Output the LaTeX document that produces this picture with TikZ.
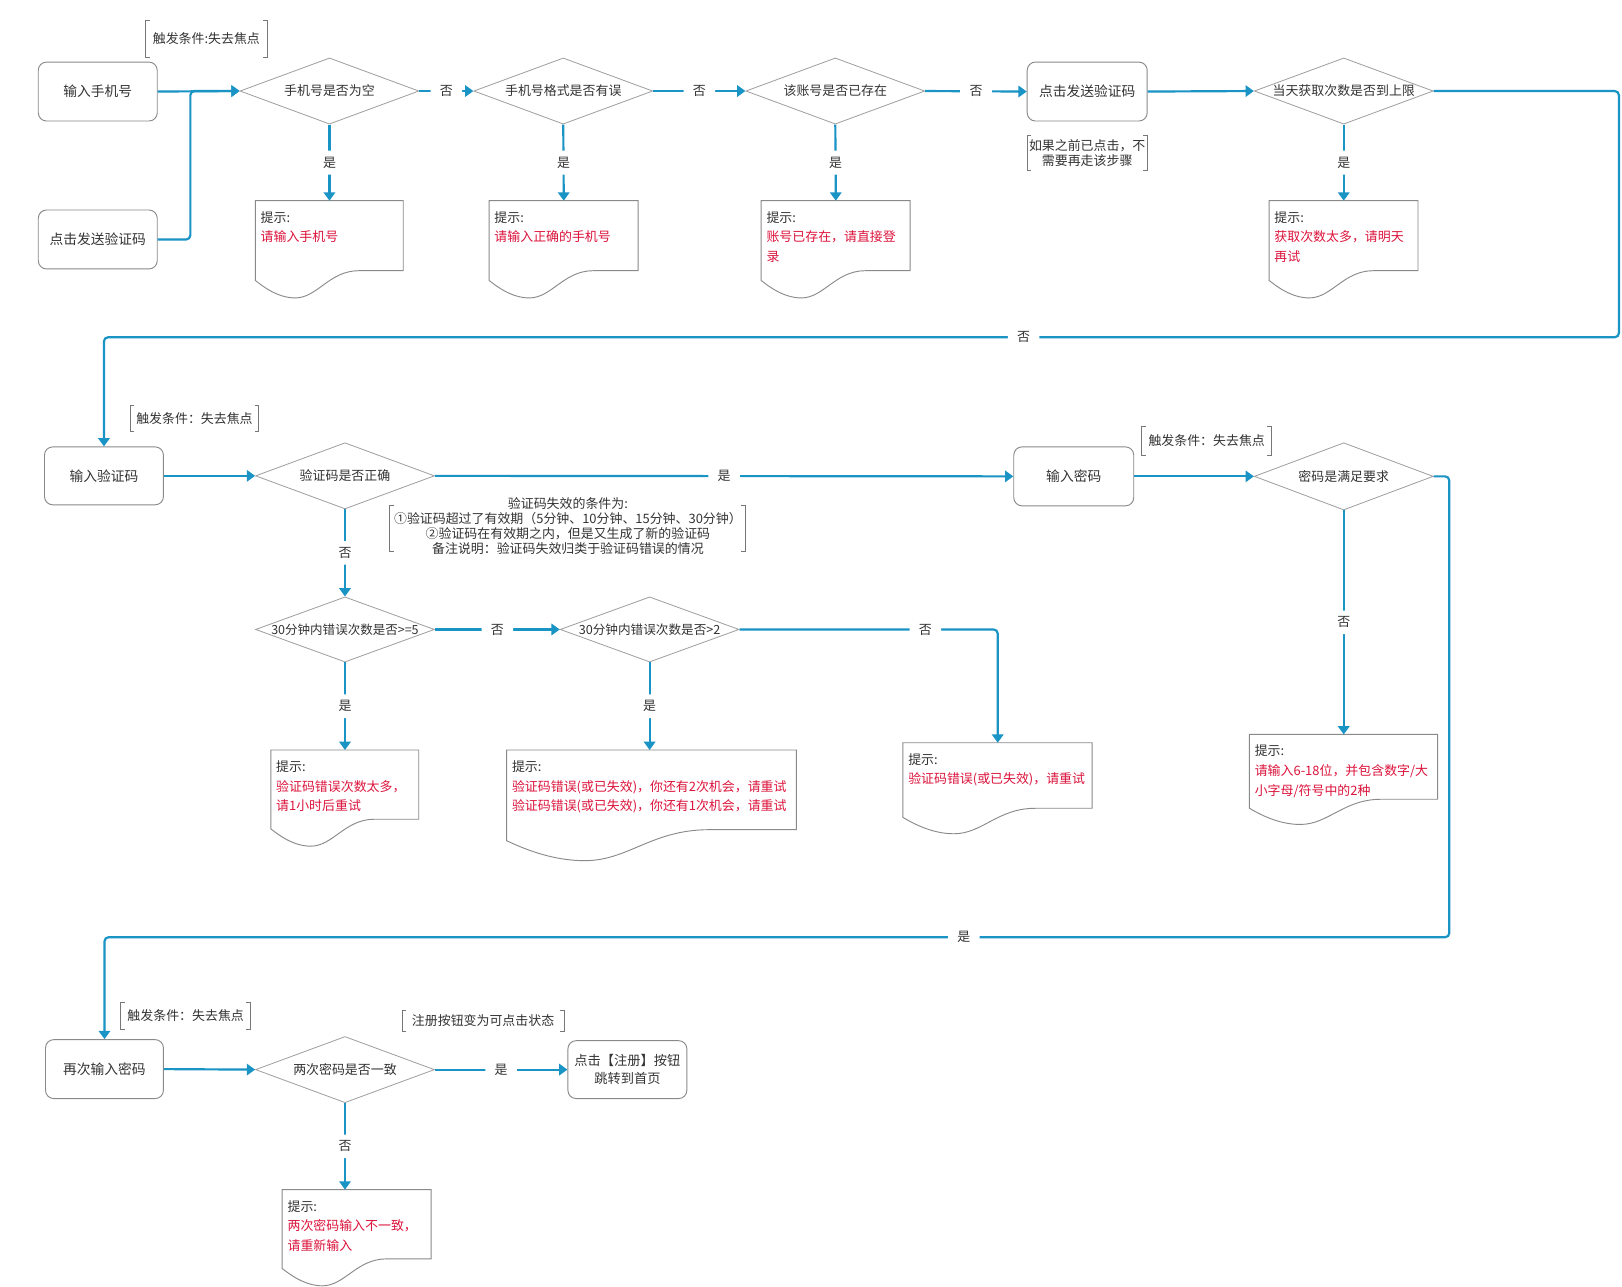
\documentclass[tikz,border=0pt]{standalone}
\usepackage{fontspec}
\setmainfont{Noto Sans CJK SC}
\usetikzlibrary{shapes.geometric,arrows.meta,calc}
\definecolor{lineblue}{HTML}{1A93C5}
\definecolor{boxgray}{HTML}{8A8A8A}
\definecolor{diagray}{HTML}{A0A0A0}
\definecolor{txt}{HTML}{333333}
\definecolor{warn}{HTML}{DC143C}
\definecolor{brk}{HTML}{777777}
\newcommand\fs{\fontsize{12.5pt}{15pt}\selectfont}
\newcommand\rd[1]{\textcolor{warn}{#1}}
\tikzset{
  every node/.style={font=\fs, text=txt},
  proc/.style={draw=boxgray, line width=0.9pt, rounded corners=8pt, minimum width=115pt, minimum height=57pt, inner sep=0pt, align=center, font=\fontsize{13.3pt}{18pt}\selectfont},
  dia/.style={diamond, draw=diagray, line width=0.8pt, minimum width=173pt, minimum height=64pt, inner sep=0pt},
  conn/.style={draw=lineblue, line width=2.1pt, rounded corners=4pt, -{Triangle[length=8pt,width=11pt]}},
  lbl/.style={fill=white, inner xsep=9pt, inner ysep=6pt},
  docline/.style={draw=boxgray, line width=0.9pt, fill=white},
  doctxt/.style={anchor=north west, inner sep=0pt, align=left, font=\fontsize{12.5pt}{19pt}\selectfont},
  brkline/.style={draw=brk, line width=0.8pt},
  annot/.style={inner sep=0pt, align=center},
}
\newcommand\docshape[6]{%
  \node[minimum width=#4pt, minimum height=#5pt, inner sep=0pt, anchor=north] (#1) at (#2,#3) {};
  \begin{scope}[shift={(#1.north west)}]
    \draw[docline] (0,0) -- (#4,0) -- (#4,0.72*#5) -- (0.7*#4,0.72*#5)
      .. controls (0.5*#4,0.72*#5) and (0.42*#4,#5) .. (0.27*#4,#5)
      .. controls (0.15*#4,#5) and (0.05*#4,0.88*#5) .. (0,0.82*#5) -- cycle;
  \end{scope}
  \node[doctxt] (#1t) at ($(#1.north west)+(5,10)$) {提示:\\#6};
}
\newcommand\annotbox[6]{%
  \node[annot, minimum width=#4pt, minimum height=#5pt] (#1) at (#2,#3) {#6};
  \draw[brkline] ([xshift=4pt]#1.north west) -- (#1.north west) -- (#1.south west) -- ([xshift=4pt]#1.south west);
  \draw[brkline] ([xshift=-4pt]#1.north east) -- (#1.north east) -- (#1.south east) -- ([xshift=-4pt]#1.south east);
}
\begin{document}
\begin{tikzpicture}[x=1pt,y=-1pt]
\fill[white] (0,0) rectangle (1568,1244);
\useasboundingbox (0,0) rectangle (1568,1244);

% ---------- row 1 ----------
\annotbox{a1}{199.5}{37.5}{117}{35}{触发条件:失去焦点}
\node[proc] (b1) at (94.5,88.5) {输入手机号};
\node[proc] (b2) at (94.5,231.5) {点击发送验证码};
\node[dia] (d1) at (318.5,88) {\makebox[0pt]{手机号是否为空}};
\node[dia] (d2) at (544.5,88) {\makebox[0pt]{手机号格式是否有误}};
\node[dia] (d3) at (807.5,88) {\makebox[0pt]{该账号是否已存在}};
\node[proc, minimum width=116pt] (b3) at (1051,88.5) {点击发送验证码};
\annotbox{a2}{1051}{148}{116}{34}{\fontsize{12.5pt}{16pt}\selectfont 如果之前已点击，不\\需要再走该步骤}
\node[dia] (d4) at (1299,88) {\makebox[0pt]{当天获取次数是否到上限}};

\docshape{doc1}{318.5}{194}{143}{94}{\rd{请输入手机号}}
\docshape{doc2}{545}{194}{144}{94}{\rd{请输入正确的手机号}}
\docshape{doc3}{808}{194}{144}{94}{\rd{账号已存在，请直接登}\\\rd{录}}
\docshape{doc4}{1299}{194}{144}{94}{\rd{获取次数太多，请明天}\\\rd{再试}}

\coordinate (j1) at (184,88);
\coordinate (r1) at (1565,326);
\draw[conn] (b1.east) -- (d1.west);
\draw[conn] (b2.east) -| (j1) -- (d1.west);
\draw[conn] (d1.east) -- node[lbl]{否} (d2.west);
\draw[conn] (d2.east) -- node[lbl]{否} (d3.west);
\draw[conn] (d3.east) -- node[lbl]{否} (b3.west);
\draw[conn] (b3.east) -- (d4.west);
\draw[conn] (d1.south) -- node[lbl]{是} (doc1.north);
\draw[conn] (d2.south) -- node[lbl]{是} (doc2.north);
\draw[conn] (d3.south) -- node[lbl]{是} (doc3.north);
\draw[conn] (d4.south) -- node[lbl]{是} (doc4.north);

% ---------- row 2 ----------
\annotbox{a3}{188}{404.5}{124}{25}{触发条件：失去焦点}
\node[proc, minimum height=56pt] (b4) at (100.5,460) {输入验证码};
\node[dia] (d5) at (333.5,460) {\makebox[0pt]{验证码是否正确}};
\node[proc, minimum width=116pt] (b5) at (1038,460.5) {输入密码};
\annotbox{a5}{1166.5}{426}{125}{28}{触发条件：失去焦点}
\node[dia, minimum height=65pt] (d8) at (1299,460.5) {\makebox[0pt]{密码是满足要求}};
\annotbox{a4}{548.5}{511}{343}{44}{}
\node[inner sep=0pt, align=center, font=\fontsize{12.5pt}{14.5pt}\selectfont] (a4t) at (549,509)
  {验证码失效的条件为:\\①验证码超过了有效期（5分钟、10分钟、15分钟、30分钟）\\②验证码在有效期之内，但是又生成了新的验证码\\备注说明：验证码失效归类于验证码错误的情况};

\node[dia, minimum height=63pt] (d6) at (333.5,608.5) {\makebox[0pt]{\fontsize{12.1pt}{14pt}\selectfont 30分钟内错误次数是否>=5}};
\node[dia, minimum height=63pt] (d7) at (628,608.5) {\makebox[0pt]{\fontsize{12.2pt}{14pt}\selectfont 30分钟内错误次数是否>2}};

\docshape{doc5}{333.5}{725}{143}{93}{\rd{验证码错误次数太多，}\\\rd{请1小时后重试}}
\docshape{doc6}{630}{725}{280}{107}{\rd{验证码错误(或已失效)，你还有2次机会，请重试}\\\rd{验证码错误(或已失效)，你还有1次机会，请重试}}
\docshape{doc7}{964.5}{718}{183}{88}{\rd{验证码错误(或已失效)，请重试}}
\docshape{doc8}{1299}{710}{182}{87}{\rd{请输入6-18位，并包含数字/大}\\\rd{小字母/符号中的2种}}

\draw[conn] (d4.east) -| (r1) -- node[lbl, pos=0.393]{否} (r1 -| b4.north) -- (b4.north);
\draw[conn] (b4.east) -- (d5.west);
\draw[conn] (d5.east) -- node[lbl]{是} (b5.west);
\draw[conn] (b5.east) -- (d8.west);
\draw[conn] (d5.south) -- node[lbl]{否} (d6.north);
\draw[conn] (d6.east) -- node[lbl]{否} (d7.west);
\draw[conn] (d7.east) -| node[lbl, pos=0.36]{否} (doc7.north);
\draw[conn] (d6.south) -- node[lbl]{是} (doc5.north);
\draw[conn] (d7.south) -- node[lbl]{是} (d7.south |- doc6.north);
\draw[conn] (d8.south) -- node[lbl]{否} (doc8.north);

% ---------- row 3 ----------
\coordinate (r2) at (1401,906);
\annotbox{a6}{179.5}{982}{125}{26}{触发条件：失去焦点}
\annotbox{a7}{467}{987}{156}{20}{注册按钮变为可点击状态}
\node[proc, minimum width=114pt] (b6) at (101,1033.5) {再次输入密码};
\node[dia] (d9) at (333.5,1034) {\makebox[0pt]{两次密码是否一致}};
\node[proc, minimum height=56pt, font=\fontsize{12.8pt}{18pt}\selectfont] (b7) at (606.5,1034) {点击【注册】按钮\\跳转到首页};
\docshape{doc9}{345}{1150}{144}{93}{\rd{两次密码输入不一致，}\\\rd{请重新输入}}

\draw[conn] (d8.east) -| (r2) -- node[lbl, pos=0.361]{是} (r2 -| b6.north) -- (b6.north);
\draw[conn] (b6.east) -- (d9.west);
\draw[conn] (d9.east) -- node[lbl]{是} (b7.west);
\draw[conn] (d9.south) -- node[lbl]{否} (d9.south |- doc9.north);
\end{tikzpicture}
\end{document}
